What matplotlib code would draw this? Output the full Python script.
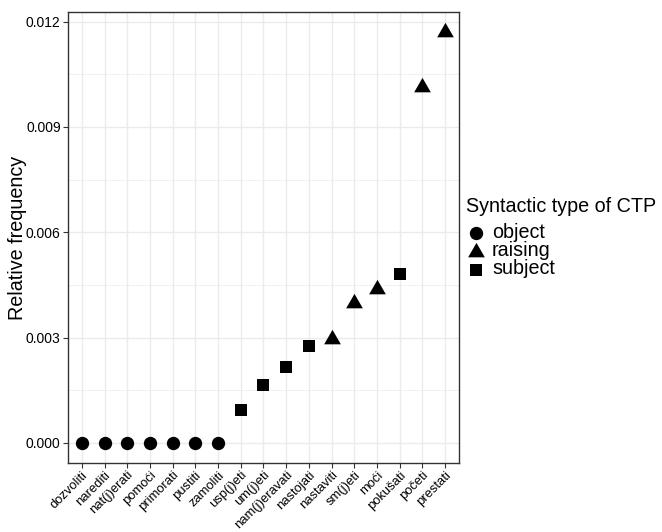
import matplotlib
matplotlib.use("Agg")
import matplotlib.pyplot as plt
from matplotlib.lines import Line2D
from matplotlib.path import Path
import numpy as np

plt.rcParams['font.family'] = ['Liberation Sans', 'DejaVu Sans']

verbs = ["dozvoliti", "narediti", "nat(j)erati", "pomoći", "primorati", "pustiti",
         "zamoliti", "usp(j)eti", "um(j)eti", "nam(j)eravati", "nastojati", "nastaviti",
         "sm(j)eti", "moći", "pokušati", "početi", "prestati"]
ctp_type = ["object", "object", "object", "object", "object", "object",
            "object", "subject", "subject", "subject", "subject", "raising",
            "raising", "raising", "subject", "raising", "raising"]
rel_freq = [0.0, 0.0, 0.0, 0.0, 0.0, 0.0,
            0.0, 0.00093, 0.00164, 0.00215, 0.00276, 0.00295,
            0.00399, 0.00437, 0.00482, 0.01015, 0.01170]

type_order = ["object", "raising", "subject"]

# equilateral triangle centred on its centroid
tri = Path([(0, 1), (-0.866, -0.5), (0.866, -0.5), (0, 1)],
           [Path.MOVETO, Path.LINETO, Path.LINETO, Path.CLOSEPOLY])
marker_style = {
    "object": dict(marker="o", s=(9.6) ** 2),
    "raising": dict(marker=tri, s=(13.9) ** 2),
    "subject": dict(marker="s", s=(9.2) ** 2),
}

fig = plt.figure(figsize=(6.62, 5.32), dpi=100)
ax = fig.add_axes([68.3 / 662, 1 - 463.3 / 532, (458.6 - 68.3) / 662, (463.3 - 11.7) / 532])

x = np.arange(len(verbs))
types = np.array(ctp_type)
vals = np.array(rel_freq)
for t in type_order:
    m = types == t
    ax.scatter(x[m], vals[m], color="black", linewidths=0, zorder=3, **marker_style[t])

ymax = max(rel_freq)
pad = 0.05 * ymax
ax.set_xlim(-0.6, len(verbs) - 0.4)
ax.set_ylim(-pad, ymax + pad)

yt = [0.0, 0.003, 0.006, 0.009, 0.012]
ax.set_yticks(yt)
ax.set_yticklabels([f"{v:.3f}" for v in yt])
ax.set_yticks([0.0015, 0.0045, 0.0075, 0.0105], minor=True)
ax.set_xticks(x)
ax.set_xticklabels(verbs, rotation=45, ha="right", va="top", rotation_mode="anchor")

ax.grid(which="major", color="#ebebeb", linewidth=1.0, zorder=0)
ax.grid(which="minor", axis="y", color="#ebebeb", linewidth=0.5, zorder=0)
ax.set_axisbelow(True)
for sp in ax.spines.values():
    sp.set_color("#333333")
    sp.set_linewidth(1.0)
ax.tick_params(which="major", length=3.5, width=0.8, color="#333333",
               labelsize=10, labelcolor="black", pad=2)
ax.tick_params(axis="x", which="major", pad=0.5, labelsize=9.4)
ax.tick_params(which="minor", length=0)
ax.set_ylabel("Relative frequency", fontsize=14.2, labelpad=-1)

# legend
def fx(px):
    return px / 662

def fy(py):
    return 1 - py / 532

fig.text(fx(466), fy(206), "Syntactic type of CTP", fontsize=14.2, va="center", ha="left")
key_y = [233.3, 251.5, 270]
legend_ms = {"object": ("o", 9.6), "raising": (tri, 13.9), "subject": (("s"), 9.2)}
for t, yy in zip(type_order, key_y):
    mk, ms = legend_ms[t]
    fig.add_artist(Line2D([fx(476)], [fy(yy)], transform=fig.transFigure, marker=mk,
                          markersize=ms, color="black", markeredgewidth=0, linestyle="none"))
    fig.text(fx(492), fy(yy - 1), t, fontsize=14.2, va="center", ha="left")

fig.savefig("out.png", dpi=100)
